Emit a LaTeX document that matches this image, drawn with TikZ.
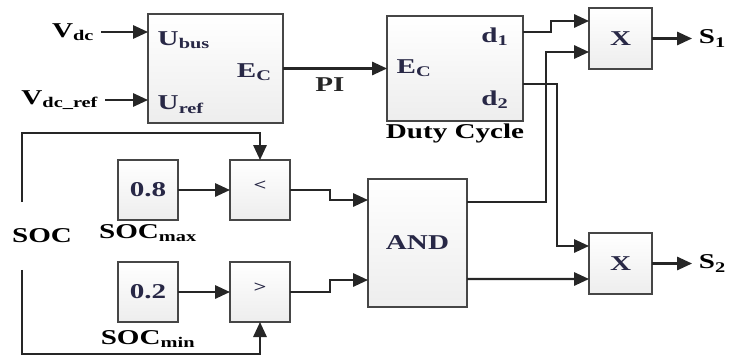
\documentclass[tikz,border=0pt]{standalone}
\usepackage{fontspec}
\setmainfont{Liberation Serif}[FakeStretch=1.38]
\usetikzlibrary{arrows.meta, positioning, calc}

\definecolor{blocktext}{RGB}{40,40,70}
\definecolor{blockline}{RGB}{70,70,70}

\begin{document}
\begin{tikzpicture}[
    x=0.3mm, y=-0.3mm,
    every node/.style={font=\fontsize{18}{20}\selectfont\bfseries},
    block/.style={rectangle, draw=blockline, line width=2.4pt, top color=white,
                  bottom color=gray!14, text=blocktext, inner sep=0pt, outer sep=0pt},
    mulbox/.style={block, minimum width=18.9mm, minimum height=18.3mm},
    cmpbox/.style={block, minimum width=18mm, minimum height=18mm},
    relbox/.style={cmpbox, font=\fontsize{14}{16}\selectfont\bfseries, text depth=2.5mm},
    port/.style={inner sep=1pt, text=blocktext},
    lbl/.style={inner sep=1pt},
    sig/.style={inner ysep=1pt, inner xsep=2mm},
    wire/.style={line width=1.8pt, black!85},
    arrow/.style={wire, -{Triangle[length=4.5mm, width=4mm]}},
]
    \useasboundingbox (0,0) rectangle (735,361);

    % main blocks
    \node[block, minimum width=40.5mm, minimum height=32.7mm] (pi) at (215.5,68.5) {};
    \node[block, minimum width=40.8mm, minimum height=31.5mm] (duty) [right=31.2mm of pi] {};
    \node[mulbox] (mul1) [right=19.8mm of duty, yshift=9mm] {X};
    \node[mulbox] (mul2) [below=49.2mm of mul1] {X};
    \node[block, minimum width=29.7mm, minimum height=38.4mm] (andg) [left=36.6mm of mul2, yshift=6.15mm] {AND};
    \node[relbox] (lt) [left=23.4mm of andg, yshift=15.9mm] {<};
    \node[relbox] (gt) [below=12.6mm of lt] {>};
    \node[cmpbox] (c08) [left=15.6mm of lt] {0.8};
    \node[cmpbox] (c02) [left=15.6mm of gt] {0.2};

    % port names inside the blocks
    \node[port] (ubus) [below right=4.8mm and 2.5mm of pi.north west] {U\textsubscript{bus}};
    \node[port] (uref) [above right=2.5mm and 2.5mm of pi.south west] {U\textsubscript{ref}};
    \node[port] (piec) [left=3mm of pi.east, yshift=-1mm] {E\textsubscript{C}};
    \node[port] (dutyec) [right=2.5mm of duty.west] {E\textsubscript{C}};
    \node[port] (d1) [left=4mm of duty.east, yshift=9.45mm] {d\textsubscript{1}};
    \node[port] (d2) [left=4mm of duty.east, yshift=-9.45mm] {d\textsubscript{2}};

    % outer labels
    \node[sig] (vdc) [left=14.1mm of pi.west, yshift=10.95mm] {V\textsubscript{dc}};
    \node[sig] (vref) [left=12.9mm of pi.west, yshift=-9.45mm] {V\textsubscript{dc\_ref}};
    \node[sig] (s1) [right=12mm of mul1] {S\textsubscript{1}};
    \node[sig] (s2) [right=12mm of mul2] {S\textsubscript{2}};
    \node[lbl] (dutyname) [below=0.5mm of duty] {Duty Cycle};
    \node[lbl] (socmax) [below=1mm of c08] {SOC\textsubscript{max}};
    \node[lbl] (socmin) [below=2mm of c02] {SOC\textsubscript{min}};
    \node[lbl, inner ysep=8mm] (soc) at (42,236) {SOC};

    % ports for the wires
    \coordinate (d1out) at ([yshift=10.95mm]duty.east);
    \coordinate (d2out) at ([yshift=-4.65mm]duty.east);
    \coordinate (m1a) at ([yshift=5.25mm]mul1.west);
    \coordinate (m1b) at ([yshift=-4.05mm]mul1.west);
    \coordinate (m2a) at ([yshift=5.25mm]mul2.west);
    \coordinate (m2b) at ([yshift=-4.65mm]mul2.west);
    \coordinate (aouta) at ([yshift=12.3mm]andg.east);
    \coordinate (aoutb) at ([yshift=-10.8mm]andg.east);
    \coordinate (aina) at ([yshift=12.9mm]andg.west);
    \coordinate (ainb) at ([yshift=-11.1mm]andg.west);

    % wires
    \draw[arrow] (vdc) -- (vdc -| pi.west);
    \draw[arrow] (vref) -- (vref -| pi.west);
    \draw[arrow] (pi) -- node[lbl, below=2mm, pos=0.45] {PI} (duty);
    \draw[arrow] (d1out) -- ++(8.4mm,0) |- (m1a);
    \draw[arrow] (d2out) -- ++(10.2mm,0) |- (m2a);
    \draw[arrow] (aouta) -- ++(23.7mm,0) |- (m1b);
    \draw[arrow] (aoutb) -- (m2b);
    \draw[arrow] (mul1) -- (s1);
    \draw[arrow] (mul2) -- (s2);
    \draw[arrow] (c08) -- (lt);
    \draw[arrow] (c02) -- (gt);
    \draw[arrow] (lt.east) -- ++(12mm,0) |- (aina);
    \draw[arrow] (gt.east) -- ++(12mm,0) |- (ainb);

    % SOC feedback
    \draw[arrow] ([xshift=-6mm]soc.north) -- ++(0,20.7mm) -| (lt.north);
    \draw[arrow] ([xshift=-6mm]soc.south) -- ++(0,-25.2mm) -| (gt.south);
\end{tikzpicture}
\end{document}
